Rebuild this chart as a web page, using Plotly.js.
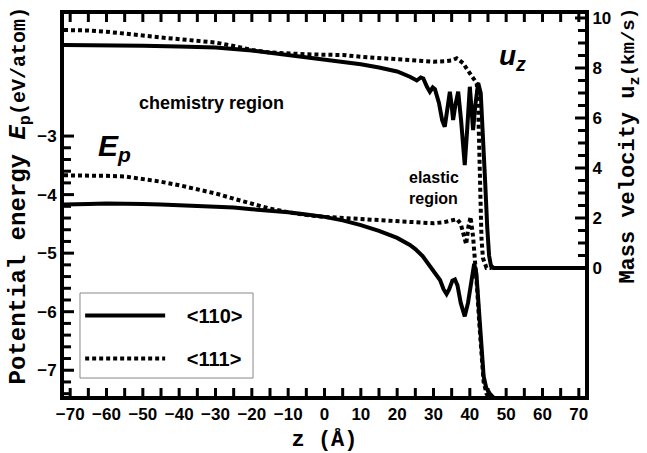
<!DOCTYPE html>
<html>
<head>
<meta charset="utf-8">
<script src="https://cdn.plot.ly/plotly-3.0.1.min.js"></script>
<style>html,body{margin:0;padding:0;background:#fff;}#chart{width:647px;height:453px;}</style>
</head>
<body>
<div id="chart"></div>
<script>
// ---- data ----
const seriesNames = ['&nbsp;&nbsp;&nbsp;&lt;110&gt;', '&nbsp;&nbsp;&nbsp;&lt;111&gt;'];

// Potential energy Ep (eV/atom), <110> (solid)
const ep110Z = [-71.7,-70,-65,-60,-55,-50,-45,-40,-35,-30,-25,-20,-15,-10,-5,0,5,10,15,20,23.5,25,27,29,30.5,31.8,32.8,33.6,34.3,35.2,35.9,36.6,37.5,38.6,39.5,40.4,41.2,41.8,42.5,43.2,43.8,44.5,45.5,47,71.7];
const ep110V = [-4.17,-4.17,-4.16,-4.15,-4.15,-4.16,-4.17,-4.18,-4.19,-4.20,-4.22,-4.25,-4.27,-4.30,-4.34,-4.38,-4.44,-4.52,-4.62,-4.74,-4.86,-4.93,-5.05,-5.22,-5.36,-5.46,-5.62,-5.70,-5.62,-5.47,-5.45,-5.55,-5.85,-6.08,-5.85,-5.45,-5.18,-5.35,-6.00,-6.70,-7.10,-7.30,-7.40,-7.50,-7.50];

// Potential energy Ep (eV/atom), <111> (dotted)
const ep111Z = [-71.7,-70,-65,-60,-55,-50,-45,-40,-35,-30,-25,-20,-15,-10,-5,0,5,10,15,20,25,30,33,35,36.5,37.5,38.2,39,39.6,40.2,40.9,41.5,42,42.6,43.2,43.8,44.6,45.5,71.7];
const ep111V = [-3.67,-3.67,-3.67,-3.68,-3.69,-3.73,-3.78,-3.84,-3.91,-3.98,-4.07,-4.16,-4.24,-4.30,-4.35,-4.38,-4.40,-4.42,-4.44,-4.46,-4.47,-4.49,-4.47,-4.45,-4.42,-4.50,-4.66,-4.85,-4.55,-4.38,-4.72,-5.15,-5.60,-6.20,-6.80,-7.20,-7.40,-7.50,-7.50];

// Mass velocity uz (km/s), <110> (solid)
const uz110Z = [-71.7,-70,-60,-50,-40,-30,-20,-10,0,5,10,15,20,23.5,25.4,26.5,27.2,28.2,29,29.8,30.4,31.5,32.4,33.1,33.8,34.5,35,35.4,36,36.8,37.6,38.6,39.3,40,40.5,40.9,41.5,42.3,43,43.6,44.2,44.8,45.3,45.8,46.5,71.7];
const uz110V = [8.92,8.92,8.91,8.89,8.86,8.82,8.70,8.52,8.32,8.24,8.15,8.02,7.86,7.65,7.50,7.62,7.58,7.25,7.05,7.22,7.15,6.60,5.90,5.65,6.40,7.05,6.50,5.92,6.50,7.05,5.90,4.12,5.60,7.25,6.30,5.52,6.50,7.40,7.00,5.50,3.50,1.60,0.50,0.10,0,0];

// Mass velocity uz (km/s), <111> (dotted)
const uz111Z = [-71.7,-70,-65,-60,-55,-50,-45,-40,-35,-30,-25,-20,-15,-10,-5,0,5,10,15,20,25,30,33,35,36.4,37.2,38.2,39,40,41,41.9,42.3,42.5,42.7,42.9,43.2,43.6,44.2,44.6,46];
const uz111V = [9.52,9.52,9.50,9.45,9.39,9.30,9.22,9.15,9.10,9.02,8.88,8.72,8.62,8.57,8.55,8.53,8.52,8.45,8.40,8.35,8.30,8.25,8.27,8.30,8.39,8.30,8.19,8.00,7.79,7.60,7.39,6.50,5.40,4.00,2.50,1.20,0.40,0.10,0,0];

// ---- tick values ----
const xTickVals = [-70,-60,-50,-40,-30,-20,-10,0,10,20,30,40,50,60,70];
const xMinorVals = [-65,-55,-45,-35,-25,-15,-5,5,15,25,35,45,55,65];
const epTickVals = [-7,-6,-5,-4,-3];
const epMinorVals = [-7.4,-7.2,-6.8,-6.6,-6.4,-6.2,-5.8,-5.6,-5.4,-5.2,-4.8,-4.6,-4.4,-4.2,-3.8,-3.6,-3.4,-3.2];
const uzTickVals = [0,2,4,6,8,10];
const uzMinorVals = [0.5,1,1.5,2.5,3,3.5,4.5,5,5.5,6.5,7,7.5,8.5,9,9.5];

const mono = '"Courier New", "Liberation Mono", "DejaVu Sans Mono", monospace';
const sans = 'Arial, "Liberation Sans", Helvetica, sans-serif';
const dotted = '4px,3px';
const xRange = [-71.7, 71.7];
const epRange = [-7.44, -0.915];
const uzRange = [-5.12, 10.16];

// ---- layout geometry ----
const W = 647, H = 453, M = {l: 64, r: 62, t: 14, b: 57};
const plotW = W - M.l - M.r, plotH = H - M.t - M.b;
function pxX(p) { return p * (xRange[1] - xRange[0]) / plotW; }
function pxEp(p) { return p * (epRange[1] - epRange[0]) / plotH; }
function pxUz(p) { return p * (uzRange[1] - uzRange[0]) / plotH; }

// inward tick marks drawn through the axes' own scales
function xTickSeg(vals, len) {
  const xs = [], ys = [];
  vals.forEach(function(v) {
    xs.push(v, v, null, v, v, null);
    ys.push(epRange[0], epRange[0] + pxEp(len), null, epRange[1], epRange[1] - pxEp(len), null);
  });
  return {x: xs, y: ys};
}
function yTickSeg(vals, len, right, pxY) {
  const xs = [], ys = [];
  vals.forEach(function(v) {
    if (right) xs.push(xRange[1], xRange[1] - pxX(len), null);
    else xs.push(xRange[0], xRange[0] + pxX(len), null);
    ys.push(v, v, null);
  });
  return {x: xs, y: ys};
}
const tickLine = {color: '#000', width: 3};
function tickTrace(seg, axis) {
  return {x: seg.x, y: seg.y, yaxis: axis, mode: 'lines', line: tickLine, showlegend: false,
    hoverinfo: 'skip', connectgaps: false};
}

const traces = [
  {x: ep110Z, y: ep110V, yaxis: 'y', mode: 'lines', name: seriesNames[0], legendgroup: 'a',
   line: {color: '#000', width: 4}, showlegend: true},
  {x: ep111Z, y: ep111V, yaxis: 'y', mode: 'lines', name: seriesNames[1], legendgroup: 'b',
   line: {color: '#000', width: 4, dash: dotted}, showlegend: true},
  {x: uz110Z, y: uz110V, yaxis: 'y2', mode: 'lines', name: seriesNames[0],
   line: {color: '#000', width: 4}, showlegend: false},
  {x: uz111Z, y: uz111V, yaxis: 'y2', mode: 'lines', name: seriesNames[1],
   line: {color: '#000', width: 4, dash: dotted}, showlegend: false},
  tickTrace(xTickSeg(xTickVals.concat(xMinorVals), 8), 'y'),
  tickTrace(yTickSeg(epTickVals, 10, false), 'y'),
  tickTrace(yTickSeg(epMinorVals, 7, false), 'y'),
  tickTrace(yTickSeg(uzTickVals, 10, true), 'y2'),
  tickTrace(yTickSeg(uzMinorVals, 7, true), 'y2')
];

const tickFont = {family: sans, size: 17, color: '#000', weight: 'bold'};

const layout = {
  width: W, height: H,
  margin: M,
  paper_bgcolor: '#fff', plot_bgcolor: '#fff',
  showlegend: true,
  legend: {x: 0.031, y: 0.262, xanchor: 'left', yanchor: 'top',
    borderwidth: 0, bgcolor: 'rgba(0,0,0,0)',
    font: {family: sans, size: 20, color: '#000', weight: 'bold'},
    itemwidth: 80, tracegroupgap: 14},
  xaxis: {range: xRange, tickmode: 'array', tickvals: xTickVals, ticks: '',
    showline: true, linewidth: 4, linecolor: '#000', mirror: true,
    showgrid: false, zeroline: false, tickfont: tickFont,
    title: {text: 'z (Å)', font: {family: mono, size: 22, color: '#000', weight: 'bold'}, standoff: 8}},
  yaxis: {range: epRange, tickmode: 'array', tickvals: epTickVals, ticks: '',
    showline: true, linewidth: 4, linecolor: '#000', mirror: false,
    showgrid: false, zeroline: false, tickfont: tickFont},
  yaxis2: {range: uzRange, overlaying: 'y', side: 'right', tickmode: 'array', tickvals: uzTickVals, ticks: '',
    showline: true, linewidth: 4, linecolor: '#000',
    showgrid: false, zeroline: false, tickfont: tickFont},
  shapes: [
    {type: 'rect', xref: 'paper', yref: 'paper', x0: 0.0307, x1: 0.3628, y0: 0.047, y1: 0.2696,
     line: {color: '#888', width: 1}, fillcolor: 'rgba(0,0,0,0)'}
  ],
  annotations: [
    {xref: 'paper', yref: 'paper', x: -0.0845, y: 0.525, xanchor: 'center', yanchor: 'middle', textangle: -90,
     text: 'Potential energy <i>E</i><sub>p</sub><span style="font-size:20px">(eV/atom)</span>', showarrow: false,
     font: {family: mono, size: 24, color: '#000', weight: 'bold'}},
    {xref: 'paper', yref: 'paper', x: 1.086, y: 0.655, xanchor: 'center', yanchor: 'middle', textangle: -90,
     text: 'Mass velocity u<sub>z</sub><span style="font-size:19px">(km/s)</span>', showarrow: false,
     font: {family: mono, size: 22, color: '#000', weight: 'bold'}},
    {xref: 'paper', yref: 'paper', x: 0.284, y: 0.767, xanchor: 'center', yanchor: 'middle',
     text: 'chemistry region', showarrow: false,
     font: {family: sans, size: 18, color: '#000', weight: 'bold'}},
    {xref: 'paper', yref: 'paper', x: 0.658, y: 0.545, xanchor: 'left', yanchor: 'middle', align: 'left',
     text: 'elastic<br>region', showarrow: false,
     font: {family: sans, size: 16, color: '#000', weight: 'bold'}},
    {xref: 'paper', yref: 'paper', x: 0.096, y: 0.65, xanchor: 'center', yanchor: 'middle',
     text: '<i>E<sub>p</sub></i>', showarrow: false,
     font: {family: sans, size: 30, color: '#000', weight: 'bold'}},
    {xref: 'paper', yref: 'paper', x: 0.86, y: 0.886, xanchor: 'center', yanchor: 'middle',
     text: '<i>u<sub>z</sub></i>', showarrow: false,
     font: {family: sans, size: 28, color: '#000', weight: 'bold'}}
  ]
};

Plotly.newPlot('chart', traces, layout, {staticPlot: true, displayModeBar: false});
</script>
</body>
</html>
